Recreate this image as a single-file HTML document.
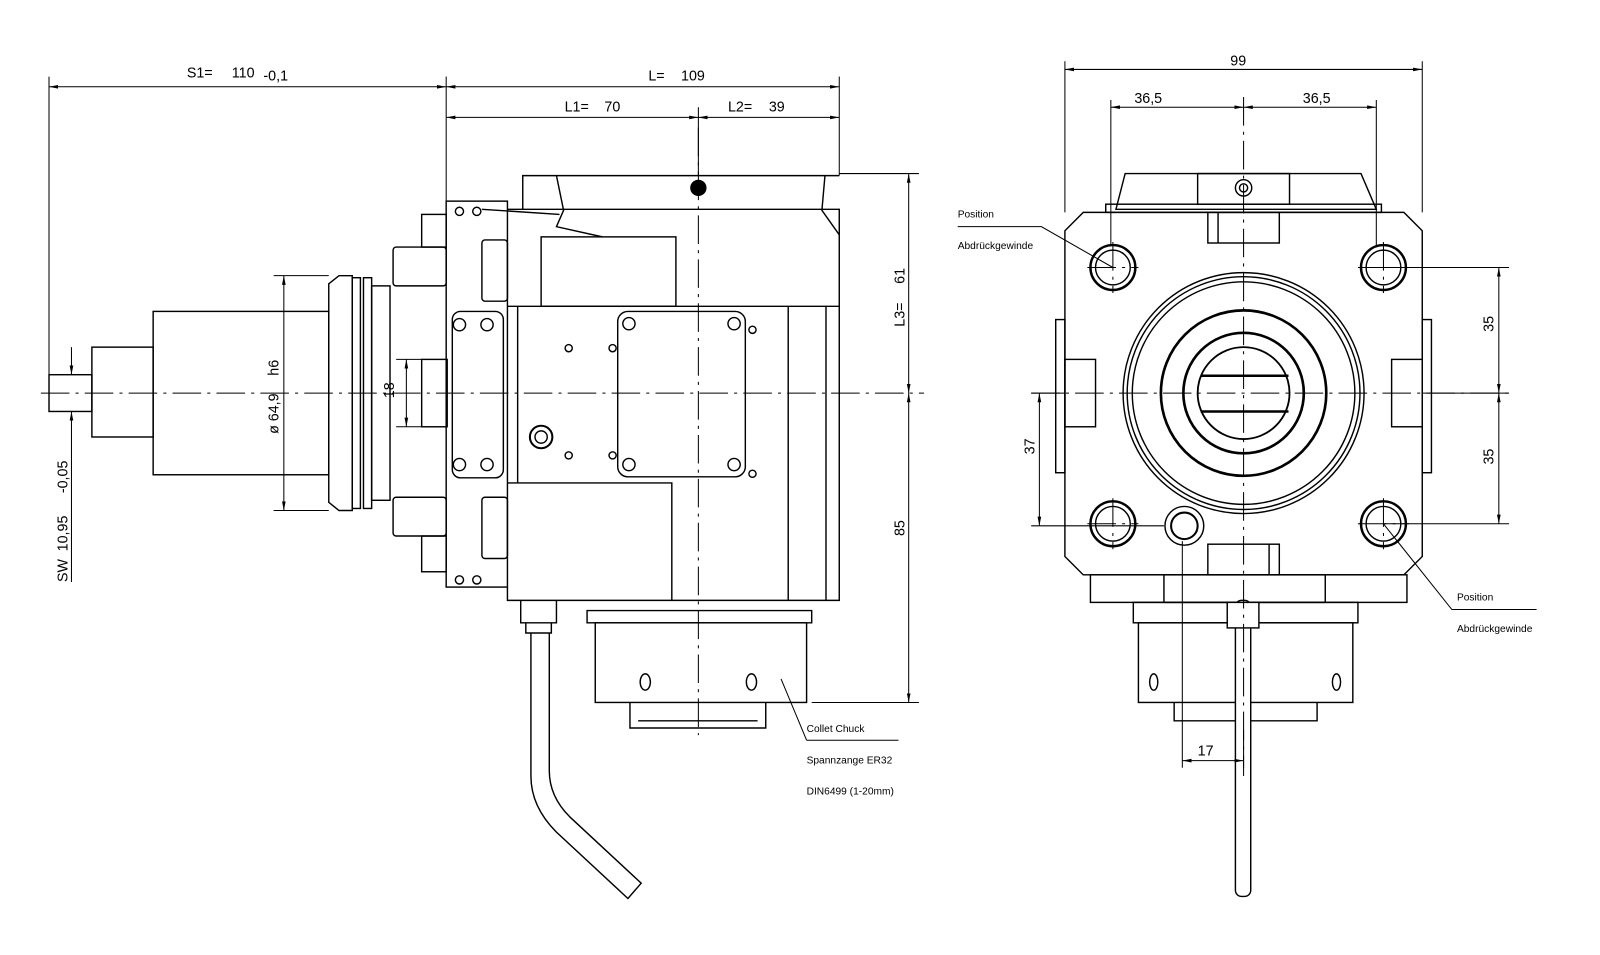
<!DOCTYPE html>
<html><head><meta charset="utf-8"><style>html,body{margin:0;padding:0;background:#fff}svg{display:block}text{font-family:"Liberation Sans Narrow","Liberation Sans",sans-serif;fill:#000}</style></head><body>
<svg width="1600" height="955" viewBox="0 0 1600 955" xmlns="http://www.w3.org/2000/svg">
<defs>
<marker id="a" viewBox="0 0 10 10" refX="10" refY="5" markerWidth="9" markerHeight="9" orient="auto-start-reverse"><path d="M0,3 L10,5 L0,7 z" fill="#000"/></marker>
</defs>
<g transform="scale(1.021)">
<g fill="none" stroke="#000" stroke-width="1.4">
<rect x="48" y="367" width="42" height="36"/>
<rect x="90" y="340" width="60" height="88"/>
<rect x="150" y="305" width="172" height="160"/>
<path d="M322,278 L332,270 L345,270 L345,500 L332,500 L322,492 Z"/>
<rect x="345" y="272" width="8" height="226"/><rect x="356" y="272" width="8" height="226"/>
<rect x="364" y="280" width="18" height="210"/>
<rect x="385" y="242" width="52" height="38" rx="3"/><rect x="385" y="487" width="52" height="38" rx="3"/>
<rect x="413" y="210" width="24" height="32"/><rect x="413" y="525" width="24" height="35"/>
<rect x="413" y="352" width="25" height="66"/>
<rect x="437" y="197" width="60" height="378"/>
<rect x="472" y="235" width="25" height="60" rx="3"/><rect x="472" y="487" width="25" height="60" rx="3"/>
<rect x="443" y="305" width="50" height="163" rx="8"/>
<circle cx="450" cy="318" r="6"/><circle cx="477" cy="318" r="6"/><circle cx="450" cy="455" r="6"/><circle cx="477" cy="455" r="6"/>
<circle cx="450" cy="207" r="4"/><circle cx="467" cy="207" r="4"/><circle cx="450" cy="568" r="4"/><circle cx="467" cy="568" r="4"/>
<path d="M497,205 L822,205 L822,588 L497,588 L497,575"/>
<path d="M512,205 L512,172 L822,172"/>
<path d="M545,172 L552,206 L545,222 L590,232"/>
<path d="M808,172 L805,206 L822,230"/>
<line x1="472" y1="205" x2="548" y2="210"/>
<rect x="530" y="232" width="132" height="68"/>
<line x1="497" y1="300" x2="822" y2="300"/>
<line x1="507" y1="300" x2="507" y2="473"/>
<path d="M497,473 L658,473 L658,588"/>
<line x1="772" y1="300" x2="772" y2="588"/><line x1="809" y1="300" x2="809" y2="588"/>
<rect x="605" y="305" width="125" height="162" rx="10"/>
<circle cx="616" cy="317" r="6"/><circle cx="719" cy="317" r="6"/><circle cx="616" cy="455" r="6"/><circle cx="719" cy="455" r="6"/>
<circle cx="737" cy="323" r="3.5"/><circle cx="737" cy="464" r="3.5"/>
<circle cx="557" cy="341" r="3.5"/><circle cx="600" cy="341" r="3.5"/><circle cx="557" cy="446" r="3.5"/><circle cx="600" cy="446" r="3.5"/>
<circle cx="530" cy="428" r="11" stroke-width="2"/><circle cx="530" cy="428" r="6"/>
<path d="M510,588 L510,610 L545,610 L545,588"/><path d="M515,610 L515,620 L540,620 L540,610"/>
<path d="M520,620 L520,760 Q520,790 545,815 L615,880 L628,865 L558,800 Q538,780 538,755 L538,620"/>
<path d="M575,598 L795,598 L795,610 L575,610 Z"/>
<rect x="583" y="610" width="207" height="78"/>
<ellipse cx="632" cy="668" rx="5" ry="8"/><ellipse cx="736" cy="668" rx="5" ry="8"/>
<path d="M617,688 L617,713 L750,713 L750,688"/>
<line x1="625" y1="706" x2="742" y2="706"/>
<line x1="48" y1="75" x2="48" y2="367" stroke-width="1"/>
<line x1="437" y1="75" x2="437" y2="197" stroke-width="1"/>
<line x1="822" y1="75" x2="822" y2="172" stroke-width="1"/>
<line x1="684" y1="105" x2="684" y2="172" stroke-width="1"/>
<line x1="48" y1="85" x2="437" y2="85" stroke-width="1" marker-start="url(#a)" marker-end="url(#a)"/>
<line x1="437" y1="85" x2="822" y2="85" stroke-width="1" marker-start="url(#a)" marker-end="url(#a)"/>
<line x1="437" y1="115" x2="684" y2="115" stroke-width="1" marker-start="url(#a)" marker-end="url(#a)"/>
<line x1="684" y1="115" x2="822" y2="115" stroke-width="1" marker-start="url(#a)" marker-end="url(#a)"/>
<line x1="822" y1="170" x2="900" y2="170" stroke-width="1"/><line x1="795" y1="688" x2="900" y2="688" stroke-width="1"/>
<line x1="890" y1="170" x2="890" y2="385" stroke-width="1" marker-start="url(#a)" marker-end="url(#a)"/>
<line x1="890" y1="385" x2="890" y2="688" stroke-width="1" marker-start="url(#a)" marker-end="url(#a)"/>
<line x1="268" y1="270" x2="322" y2="270" stroke-width="1"/><line x1="268" y1="500" x2="322" y2="500" stroke-width="1"/>
<line x1="278" y1="270" x2="278" y2="500" stroke-width="1" marker-start="url(#a)" marker-end="url(#a)"/>
<line x1="388" y1="352" x2="413" y2="352" stroke-width="1"/><line x1="388" y1="418" x2="413" y2="418" stroke-width="1"/>
<line x1="398" y1="352" x2="398" y2="418" stroke-width="1" marker-start="url(#a)" marker-end="url(#a)"/>
<line x1="60" y1="403" x2="90" y2="403" stroke-width="1"/>
<line x1="70" y1="340" x2="70" y2="367" stroke-width="1" marker-end="url(#a)"/>
<line x1="70" y1="430" x2="70" y2="403" stroke-width="1" marker-end="url(#a)"/>
<line x1="70" y1="430" x2="70" y2="570" stroke-width="1"/>
<line x1="765" y1="665" x2="790" y2="725" stroke-width="1"/><line x1="790" y1="725" x2="880" y2="725" stroke-width="1"/>
<path d="M1061,208 L1375,208 L1393,226 L1393,545 L1375,563 L1061,563 L1043,545 L1043,226 Z"/>
<path d="M1093,205 L1102,170 L1333,170 L1348,205 Z"/>
<rect x="1083" y="200" width="270" height="8"/>
<rect x="1173" y="170" width="90" height="30"/>
<circle cx="1218" cy="184" r="8"/><circle cx="1218" cy="184" r="4"/>
<rect x="1183" y="208" width="70" height="30"/><line x1="1193" y1="208" x2="1193" y2="238"/>
<rect x="1183" y="533" width="70" height="30"/><line x1="1243" y1="533" x2="1243" y2="563"/>
<rect x="1043" y="352" width="30" height="66"/><rect x="1363" y="352" width="30" height="66"/>
<rect x="1034" y="313" width="9" height="150"/><rect x="1393" y="313" width="9" height="150"/>
<circle cx="1090" cy="262" r="22" stroke-width="2.4"/><circle cx="1090" cy="262" r="17"/>
<circle cx="1355" cy="262" r="22" stroke-width="2.4"/><circle cx="1355" cy="262" r="17"/>
<circle cx="1090" cy="513" r="22" stroke-width="2.4"/><circle cx="1090" cy="513" r="17"/>
<circle cx="1355" cy="513" r="22" stroke-width="2.4"/><circle cx="1355" cy="513" r="17"/>
<circle cx="1160" cy="515" r="19"/><circle cx="1160" cy="515" r="13" stroke-width="2"/>
<circle cx="1218" cy="385" r="118"/><circle cx="1218" cy="385" r="114"/><circle cx="1218" cy="385" r="109"/>
<circle cx="1218" cy="385" r="81" stroke-width="2.6"/><circle cx="1218" cy="385" r="59" stroke-width="2.6"/><circle cx="1218" cy="385" r="45" stroke-width="1.8"/>
<line x1="1176" y1="368" x2="1262" y2="368" stroke-width="2.4"/><line x1="1176" y1="403" x2="1262" y2="403" stroke-width="2.4"/>
<rect x="1068" y="563" width="310" height="27"/>
<rect x="1140" y="563" width="158" height="27"/>
<rect x="1110" y="590" width="220" height="20"/>
<rect x="1115" y="610" width="210" height="78"/>
<ellipse cx="1130" cy="668" rx="4" ry="8"/><ellipse cx="1309" cy="668" rx="4" ry="8"/>
<path d="M1150,688 L1150,706 L1290,706 L1290,688"/>
<rect x="1210" y="588" width="15" height="290" rx="6" fill="#fff"/>
<rect x="1202" y="590" width="31" height="25" fill="#fff"/>
<line x1="1043" y1="60" x2="1043" y2="208" stroke-width="1"/><line x1="1393" y1="60" x2="1393" y2="208" stroke-width="1"/>
<line x1="1043" y1="68" x2="1393" y2="68" stroke-width="1" marker-start="url(#a)" marker-end="url(#a)"/>
<line x1="1088" y1="98" x2="1088" y2="240" stroke-width="1"/><line x1="1348" y1="98" x2="1348" y2="240" stroke-width="1"/>
<line x1="1088" y1="105" x2="1218" y2="105" stroke-width="1" marker-start="url(#a)" marker-end="url(#a)"/>
<line x1="1218" y1="105" x2="1348" y2="105" stroke-width="1" marker-start="url(#a)" marker-end="url(#a)"/>
<line x1="1355" y1="262" x2="1478" y2="262" stroke-width="1"/><line x1="1355" y1="513" x2="1478" y2="513" stroke-width="1"/><line x1="1393" y1="385" x2="1478" y2="385" stroke-width="1"/>
<line x1="1468" y1="262" x2="1468" y2="385" stroke-width="1" marker-start="url(#a)" marker-end="url(#a)"/>
<line x1="1468" y1="385" x2="1468" y2="513" stroke-width="1" marker-start="url(#a)" marker-end="url(#a)"/>
<line x1="1010" y1="385" x2="1043" y2="385" stroke-width="1"/><line x1="1010" y1="515" x2="1140" y2="515" stroke-width="1"/>
<line x1="1018" y1="385" x2="1018" y2="515" stroke-width="1" marker-start="url(#a)" marker-end="url(#a)"/>
<line x1="1158" y1="530" x2="1158" y2="752" stroke-width="1"/><line x1="1218" y1="715" x2="1218" y2="752" stroke-width="1"/>
<line x1="1158" y1="745" x2="1218" y2="745" stroke-width="1" marker-start="url(#a)" marker-end="url(#a)"/>
<path d="M938,222 L1020,222 L1090,262" stroke-width="1"/>
<path d="M1355,513 L1422,597 L1505,597" stroke-width="1"/>
</g>
<g fill="none" stroke="#000" stroke-width="1" stroke-dasharray="28,6,3,6">
<line x1="40" y1="385" x2="905" y2="385"/>
<line x1="684" y1="125" x2="684" y2="720"/>
<line x1="1010" y1="385" x2="1478" y2="385"/>
<line x1="1218" y1="95" x2="1218" y2="760"/>
<line x1="1065" y1="262" x2="1115" y2="262"/><line x1="1090" y1="237" x2="1090" y2="287"/>
<line x1="1330" y1="262" x2="1380" y2="262"/><line x1="1355" y1="237" x2="1355" y2="287"/>
<line x1="1065" y1="513" x2="1115" y2="513"/><line x1="1090" y1="488" x2="1090" y2="538"/>
<line x1="1330" y1="513" x2="1380" y2="513"/><line x1="1355" y1="488" x2="1355" y2="538"/>
</g>
<circle cx="684" cy="184" r="8" fill="#000"/>
<g font-size="14">
<text x="183" y="76">S1=</text><text x="227" y="76">110</text><text x="258" y="79">-0,1</text>
<text x="635" y="79">L=</text><text x="667" y="79">109</text>
<text x="553" y="109">L1=</text><text x="592" y="109">70</text>
<text x="713" y="109">L2=</text><text x="753" y="109">39</text>
<text x="1205" y="64">99</text>
<text x="1111" y="101">36,5</text><text x="1276" y="101">36,5</text>
<text x="1173" y="740">17</text>
<text transform="translate(886,320) rotate(-90)">L3=</text>
<text transform="translate(886,278) rotate(-90)">61</text>
<text transform="translate(886,525) rotate(-90)">85</text>
<text transform="translate(1463,325) rotate(-90)">35</text>
<text transform="translate(1463,455) rotate(-90)">35</text>
<text transform="translate(1013,445) rotate(-90)">37</text>
<text transform="translate(386,390) rotate(-90)">18</text>
<text transform="translate(273,425) rotate(-90)">ø 64,9</text>
<text transform="translate(273,368) rotate(-90)">h6</text>
<text transform="translate(66,570) rotate(-90)">SW</text>
<text transform="translate(66,540) rotate(-90)">10,95</text>
<text transform="translate(66,483) rotate(-90)">-0,05</text>
</g>
<g font-size="10">
<text x="938" y="213">Position</text><text x="938" y="244">Abdrückgewinde</text>
<text x="1427" y="588">Position</text><text x="1427" y="619">Abdrückgewinde</text>
<text x="790" y="717">Collet Chuck</text><text x="790" y="748">Spannzange ER32</text><text x="790" y="778">DIN6499 (1-20mm)</text>
</g>
</g>
</svg>
</body></html>
